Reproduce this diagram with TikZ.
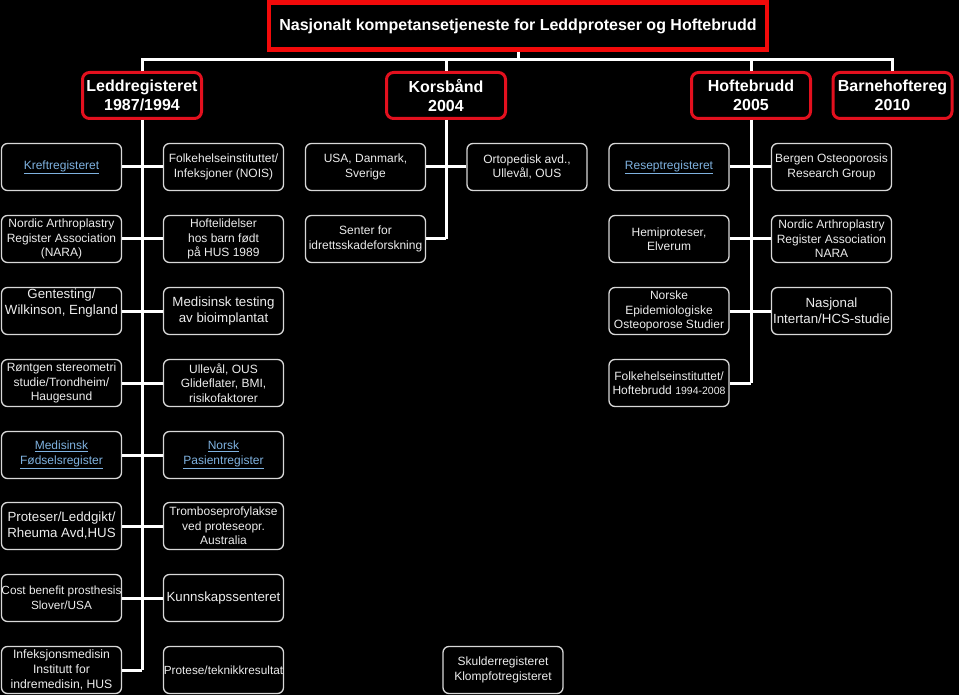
\documentclass[tikz,border=0pt]{standalone}
\usepackage{fontspec}
\setmainfont{Liberation Sans}
\definecolor{boxgray}{HTML}{D8D8D8}
\definecolor{txt}{HTML}{ECECEC}
\definecolor{linkc}{HTML}{7FB2E0}
\definecolor{redc}{HTML}{E3101E}
\definecolor{topred}{HTML}{F20A0A}
\tikzset{
  box/.style={draw=boxgray, line width=1.3pt, rounded corners=6pt, fill=black,
    minimum width=120pt, minimum height=47pt, inner xsep=0pt, inner ysep=1pt,
    align=center, text=txt, font=\fontsize{12}{14.5}\selectfont},
  bigtxt/.style={font=\fontsize{13.3}{16}\selectfont},
  linktxt/.style={text=linkc},
  redbox/.style={draw=redc, line width=3pt, rounded corners=7pt, fill=black,
    minimum width=119pt, minimum height=46pt, inner sep=0pt, align=center,
    text=white, font=\bfseries\fontsize{16}{19}\selectfont},
  topbox/.style={draw=topred, line width=4.5pt, fill=black,
    minimum width=498pt, minimum height=47pt, inner sep=0pt, align=center,
    text=white, font=\bfseries\fontsize{16}{19}\selectfont},
  conn/.style={draw=white, line width=3pt, line join=miter}
}
\begin{document}
\begin{tikzpicture}[x=1pt,y=-1pt]
\fill[black] (0,0) rectangle (959,695);
\useasboundingbox (0,0) rectangle (959,695);
\coordinate (bus) at (517,60);

% top level
\node[topbox] (top) at (518,26) {Nasjonalt kompetansetjeneste for Leddproteser og Hoftebrudd};
\node[redbox] (ledd) at (142,95.5) {Leddregisteret\\1987/1994};
\node[redbox] (kors) at (446,95.5) {Korsbånd\\2004};
\node[redbox] (hofte) at (751,95.5) {Hoftebrudd\\2005};
\node[redbox] (barne) at (892.5,95.5) {Barnehoftereg\\2010};

% Leddregisteret children
\node[box,linktxt] (a1) at (61.5,167) {\underline{Kreftregisteret}};
\node[box] (b1) at (223.5,167) {Folkehelseinstituttet/\\Infeksjoner (NOIS)};
\node[box] (a2) at (61.5,239) {Nordic Arthroplastry\\Register Association\\(NARA)};
\node[box] (b2) at (223.5,239) {Hoftelidelser\\hos barn født\\på HUS 1989};
\node[box,bigtxt] (a3) at (61.5,311) {Gentesting/\\Wilkinson, England\\[2pt]};
\node[box,bigtxt] (b3) at (223.5,311) {Medisinsk testing\\av bioimplantat};
\node[box] (a4) at (61.5,383) {Røntgen stereometri\\studie/Trondheim/\\Haugesund};
\node[box] (b4) at (223.5,383) {Ullevål, OUS\\Glideflater, BMI,\\risikofaktorer};
\node[box,linktxt] (a5) at (61.5,455) {\underline{Medisinsk}\\\underline{Fødselsregister}};
\node[box,linktxt] (b5) at (223.5,455) {\underline{Norsk}\\\underline{Pasientregister}};
\node[box,bigtxt] (a6) at (61.5,526) {Proteser/Leddgikt/\\Rheuma Avd,HUS};
\node[box] (b6) at (223.5,526) {Tromboseprofylakse\\ved proteseopr.\\Australia};
\node[box,font=\fontsize{11.8}{14.5}\selectfont] (a7) at (61.5,598) {Cost benefit prosthesis\\Slover/USA};
\node[box,bigtxt] (b7) at (223.5,598) {Kunnskapssenteret};
\node[box,font=\fontsize{12.2}{14.7}\selectfont] (a8) at (61.5,670) {Infeksjonsmedisin\\Institutt for\\indremedisin, HUS};
\node[box,font=\fontsize{11.8}{14.5}\selectfont] (b8) at (223.5,670) {Protese/teknikkresultat};

% Korsbånd children
\node[box] (c1) at (365.5,167) {USA, Danmark,\\Sverige};
\node[box] (d1) at (527,167) {Ortopedisk avd.,\\Ullevål, OUS};
\node[box] (c2) at (365.5,239) {Senter for\\idrettsskadeforskning};

% Hoftebrudd children
\node[box,linktxt] (e1) at (669,167) {\underline{Reseptregisteret}};
\node[box] (f1) at (831.5,167) {Bergen Osteoporosis\\Research Group};
\node[box] (e2) at (669,239) {Hemiproteser,\\Elverum};
\node[box] (f2) at (831.5,239) {Nordic Arthroplastry\\Register Association\\NARA};
\node[box] (e3) at (669,311) {Norske\\Epidemiologiske\\Osteoporose Studier};
\node[box,bigtxt] (f3) at (831.5,311) {Nasjonal\\Intertan/HCS-studie};
\node[box] (e4) at (669,383) {Folkehelseinstituttet/\\Hoftebrudd {\fontsize{10.5}{14.5}\selectfont 1994-2008}};

% unconnected
\node[box] (g8) at (503,670) {Skulderregisteret\\Klompfotregisteret};

% connectors
\draw[conn] (top.south) -- (top.south |- bus);
\draw[conn] (ledd.north) -- (ledd.north |- bus) -- (barne.north |- bus) -- (barne.north);
\draw[conn] (kors.north) -- (kors.north |- bus);
\draw[conn] (hofte.north) -- (hofte.north |- bus);

\draw[conn] (ledd.south) -- (ledd.south |- a8.east);
\foreach \i in {1,...,7} {\draw[conn] (a\i.east) -- (b\i.west);}
\draw[conn] (a8.east) -- (a8.east -| ledd.south);

\draw[conn] (kors.south) -- (kors.south |- c2.east);
\draw[conn] (c1.east) -- (d1.west);
\draw[conn] (c2.east) -- (c2.east -| kors.south);

\draw[conn] (hofte.south) -- (hofte.south |- e4.east);
\foreach \i in {1,2,3} {\draw[conn] (e\i.east) -- (f\i.west);}
\draw[conn] (e4.east) -- (e4.east -| hofte.south);
\end{tikzpicture}
\end{document}
